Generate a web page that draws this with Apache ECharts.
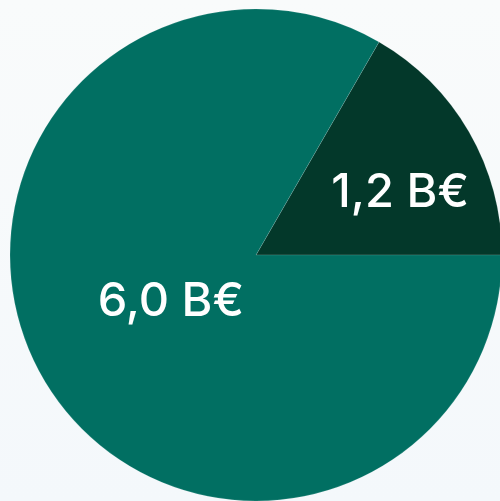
<!DOCTYPE html>
<html>
<head>
<meta charset="utf-8">
<script src="https://cdn.jsdelivr.net/npm/echarts@6/dist/echarts.min.js"></script>
<style>
  html, body { margin: 0; padding: 0; }
  body { width: 500px; height: 501px; background: linear-gradient(180deg, #f9fbfb 0%, #f4f8fb 100%); }
  #chart { width: 500px; height: 501px; }
</style>
</head>
<body>
<div id="chart"></div>
<script>
// Slice names, values (billions of euros) and fills
const categories = ['A', 'B'];
const values = [1.2, 6.0];
const colors = ['#03382a', '#016f62'];
// Label nudges from the default inside position, per slice
const labelOffsets = [[35, 1], [24, -16]];

const fmt = v => v.toFixed(1).replace('.', ',') + ' B€';

const chart = echarts.init(document.getElementById('chart'), null, { renderer: 'canvas' });
chart.setOption({
  backgroundColor: 'transparent',
  animation: false,
  series: [{
    type: 'pie',
    center: [256, 255],
    radius: [0, 246],
    startAngle: 60,
    clockwise: true,
    silent: true,
    itemStyle: { borderColor: 'rgba(255,255,255,0.12)', borderWidth: 1 },
    label: {
      show: true,
      position: 'inside',
      color: '#ffffff',
      fontFamily: 'Inter',
      fontWeight: 500,
      fontSize: 47,
      formatter: p => fmt(p.value)
    },
    labelLine: { show: false },
    data: categories.map((c, i) => ({
      name: c,
      value: values[i],
      itemStyle: { color: colors[i] },
      label: { offset: labelOffsets[i] }
    }))
  }]
});
</script>
</body>
</html>
